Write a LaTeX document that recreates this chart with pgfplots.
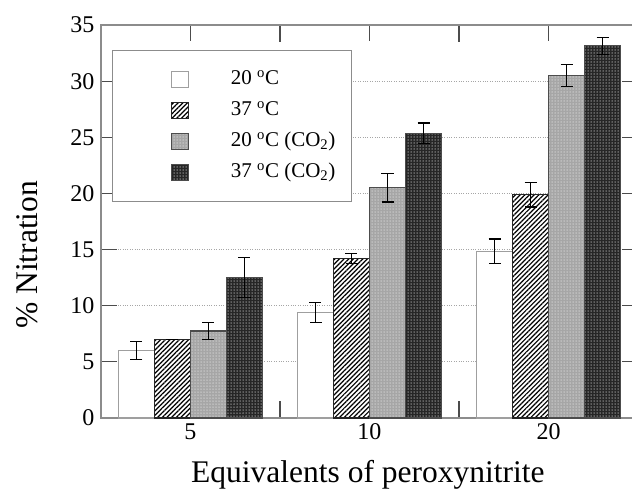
\documentclass[border=0pt]{standalone}
\usepackage{fontspec}
\setmainfont{Liberation Serif}
\usepackage{pgfplots}
\pgfplotsset{compat=1.18}
\usetikzlibrary{patterns.meta}
\definecolor{axgray}{gray}{0.55}
\definecolor{tickgray}{gray}{0.3}
\pgfplotsset{
  legimg/.style={legend image code/.code={%
    \path (-44pt,0) (57pt,0);
    \draw[##1] (0pt,-8pt) rectangle (17pt,8pt);}},
}
\begin{document}
\begin{tikzpicture}
\begin{axis}[
  scale only axis,
  width=537pt, height=393pt,
  ybar=0pt, bar width=36pt,
  xmin=-0.5, xmax=2.5,
  ymin=0, ymax=35,
  xtick={0,1,2}, xticklabels={5,10,20},
  minor xtick={0.5,1.5},
  ytick={0,5,...,35},
  tick align=inside,
  major tick length=16pt, minor tick length=17pt,
  tick style={tickgray, line width=1.2pt},
  ymajorgrids, grid style={gray!70, dotted, line width=1pt},
  axis line style={axgray, line width=1.5pt},
  /pgf/number format/assume math mode=true,
  ticklabel style={font=\fontsize{24}{24}\selectfont},
  xticklabel style={yshift=-2pt},
  yticklabel style={xshift=-3pt},
  xlabel={Equivalents of peroxynitrite},
  ylabel={\% Nitration},
  label style={font=\fontsize{31.5}{31.5}\selectfont},
  xlabel style={at={(axis description cs:0.497,0)}, anchor=base, yshift=-64pt},
  ylabel style={at={(axis description cs:-0.138,0.415)}, anchor=center},
  legend style={at={(axis description cs:0.0205,0.936)}, anchor=north west,
    draw=axgray, line width=1.3pt, inner xsep=14pt, inner ysep=17pt,
    row sep=7pt, font=\fontsize{21}{21}\selectfont,
    nodes={inner sep=2pt, text height=15pt, text depth=5pt}},
  legend cell align=left,
  error bars/y dir=both, error bars/y explicit,
  error bars/error bar style={black, line width=1.2pt},
  error bars/error mark options={black, rotate=90, mark size=6pt, line width=1.2pt},
  every axis plot post/.append style={legimg},
]
\addplot[fill=white, draw=gray!75, line width=1.3pt]
  coordinates {(0,6.0) +- (0,0.8) (1,9.4) +- (0,0.9) (2,14.85) +- (0,1.1)};
\addplot[fill=white, draw=black!85, line width=1.3pt,
  postaction={pattern={Lines[angle=45,distance=3.3pt,line width=1.2pt]}, pattern color=black}]
  coordinates {(0,7.0) +- (0,0) (1,14.2) +- (0,0.42) (2,19.9) +- (0,1.1)};
\addplot[fill=gray!70, draw=gray!60!black, line width=1.3pt,
  postaction={pattern={Dots[distance=3pt,radius=0.75pt]}, pattern color=gray!35}]
  coordinates {(0,7.75) +- (0,0.75) (1,20.5) +- (0,1.27) (2,30.5) +- (0,0.95)};
\addplot[fill=black!85, draw=black!70, line width=1.3pt,
  postaction={pattern={Dots[distance=3pt,radius=0.75pt]}, pattern color=gray!75}]
  coordinates {(0,12.5) +- (0,1.8) (1,25.35) +- (0,0.93) (2,33.15) +- (0,0.75)};
\legend{20 \textsuperscript{o}C, 37 \textsuperscript{o}C,
  20 \textsuperscript{o}C (CO\textsubscript{2}), 37 \textsuperscript{o}C (CO\textsubscript{2})}
\coordinate (sw) at (rel axis cs:0,0);
\end{axis}
\pgfresetboundingbox
\path[use as bounding box] ([xshift=-101pt,yshift=-73pt]sw) rectangle ([xshift=531pt,yshift=418pt]sw);
\end{tikzpicture}
\end{document}
